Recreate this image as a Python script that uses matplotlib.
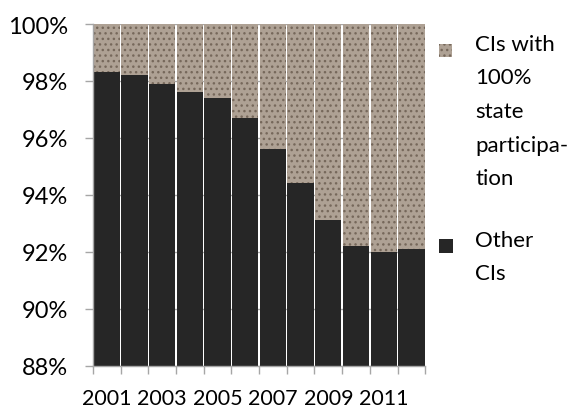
import matplotlib
matplotlib.use('Agg')
import matplotlib.pyplot as plt
from matplotlib.patches import Rectangle
import numpy as np

# share of credit institutions per year (%)
years = [2001, 2002, 2003, 2004, 2005, 2006, 2007, 2008, 2009, 2010, 2011, 2012]
other = [98.3, 98.2, 97.9, 97.6, 97.4, 96.7, 95.6, 94.4, 93.1, 92.2, 92.0, 92.1]
state = [100 - v for v in other]
labels = ['CIs with\n100%\nstate\nparticipa-\ntion', 'Other\nCIs']
yticks = [88, 90, 92, 94, 96, 98, 100]

plt.rcParams['font.family'] = 'Lato'
plt.rcParams['hatch.color'] = '#76685b'
plt.rcParams['hatch.linewidth'] = 1.0

dark = '#262626'
stone = '#aea194'
grey = '#a6a6a6'

fig = plt.figure(figsize=(5.77, 4.10), dpi=100)
ax = fig.add_axes([0.161, 0.1056, 0.576, 0.8334])

x = np.arange(len(years))
ax.bar(x, other, width=0.95, color=dark, zorder=2)
# no edgecolor given, so the hatch takes hatch.color
ax.bar(x, state, bottom=other, width=0.95, color=stone, hatch='...', zorder=2)

ax.set_xlim(-0.5, len(years) - 0.5)
ax.set_ylim(88, 100)
ax.set_yticks(yticks)
ax.set_yticklabels(['%d%%' % v for v in yticks])
ax.yaxis.grid(True, color=grey, linewidth=1, zorder=0)

# tick marks between the bars, labels only for every second year
ax.set_xticks(np.arange(-0.5, len(years), 1.0))
ax.set_xticklabels([])
ax.set_xticks(x[::2], minor=True)
ax.set_xticklabels([str(y) for y in years[::2]], minor=True)
ax.tick_params(axis='x', which='major', length=6, color=grey, width=1)
ax.tick_params(axis='x', which='minor', length=0, pad=16, labelsize=15.5)
ax.tick_params(axis='y', length=6, color=grey, width=1, pad=12, labelsize=17)

for s in ['top', 'right']:
    ax.spines[s].set_visible(False)
for s in ['left', 'bottom']:
    ax.spines[s].set_color(grey)
    ax.spines[s].set_linewidth(1)

# legend drawn by hand: swatch beside the first line, one text per line
W, H = 577.0, 410.0
fig.patches.append(Rectangle((439 / W, 1 - 58 / H), 13 / W, 13 / H,
                             transform=fig.transFigure, facecolor=stone,
                             hatch='...'))
fig.patches.append(Rectangle((439 / W, 1 - 254 / H), 14 / W, 14 / H,
                             transform=fig.transFigure, facecolor=dark))
for lab, y0 in zip(labels, [45, 241]):
    for i, line in enumerate(lab.split('\n')):
        fig.text(475 / W, 1 - (y0 + i * 33.5) / H, line, fontsize=16,
                 va='center')

plt.savefig('out.png', dpi=100)
